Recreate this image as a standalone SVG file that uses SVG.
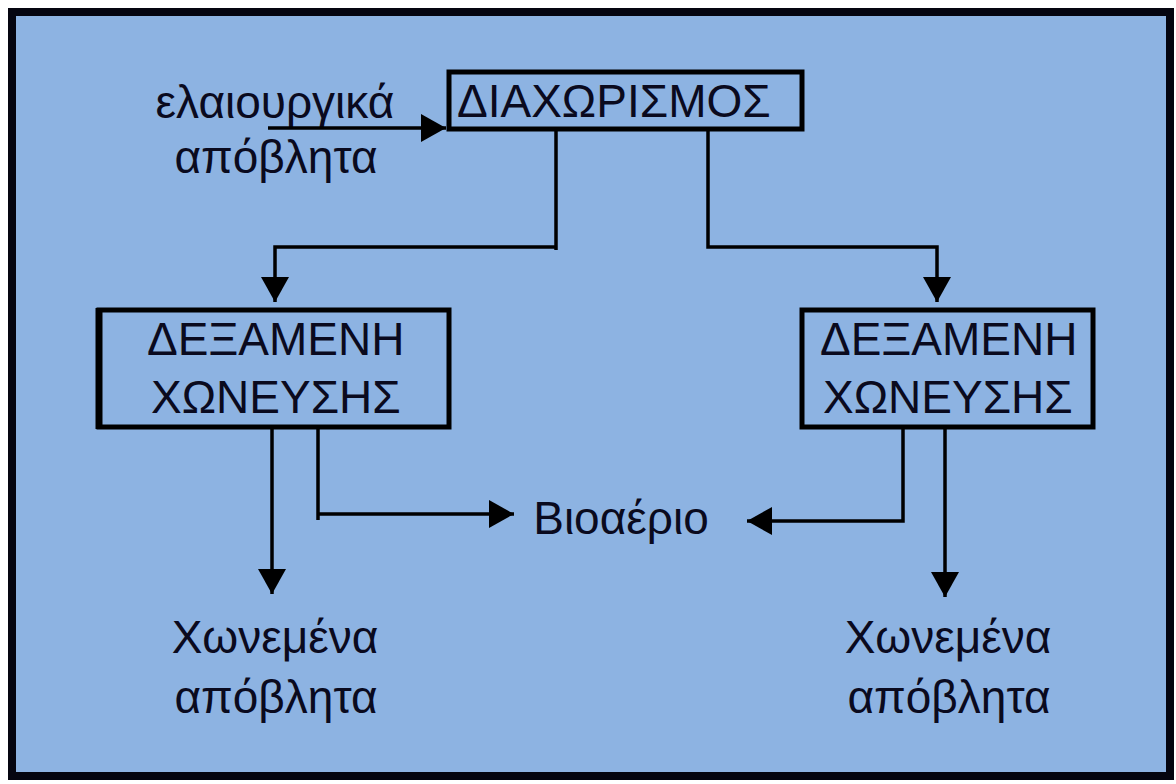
<svg xmlns="http://www.w3.org/2000/svg" width="1176" height="784" viewBox="0 0 1176 784">
<style>
.node rect{fill:none;stroke:#000;stroke-width:5}
.t{font-family:"Liberation Sans",Arial,sans-serif;fill:#0a0a1e}
.big{font-size:46px}
.lbl{font-size:46px;text-anchor:middle}
.c path{fill:none;stroke:#000;stroke-width:3.5}
</style>
<defs>
<marker id="ah" markerUnits="userSpaceOnUse" markerWidth="26" markerHeight="30" refX="25" refY="15" orient="auto" viewBox="0 0 26 30">
<path d="M0,1 L25,15 L0,29 Z" fill="#000"/>
</marker>
</defs>
<rect x="12" y="12" width="1158" height="764" fill="#8db3e2" stroke="#050510" stroke-width="8"/>
<g id="input-label">
<text class="t lbl" x="275" y="118">ελαιουργικά</text>
<text class="t lbl" x="276" y="173">απόβλητα</text>
</g>
<g id="diaxorismos" class="node">
<rect x="449" y="72" width="353" height="57"/>
<text class="t big" x="457" y="117">ΔΙΑΧΩΡΙΣΜΟΣ</text>
</g>
<g id="dexameni-left" class="node">
<rect x="99" y="310" width="350" height="117"/>
<line x1="99" y1="308" x2="99" y2="429" stroke="#000" stroke-width="7"/>
<text class="t big" x="147" y="355">ΔΕΞΑΜΕΝΗ</text>
<text class="t big" x="151" y="413">ΧΩΝΕΥΣΗΣ</text>
</g>
<g id="dexameni-right" class="node">
<rect x="802" y="310" width="291" height="117"/>
<text class="t big" x="820" y="355">ΔΕΞΑΜΕΝΗ</text>
<text class="t big" x="823" y="413">ΧΩΝΕΥΣΗΣ</text>
</g>
<g id="bioaerio">
<text class="t lbl" x="621" y="534">Βιοαέριο</text>
</g>
<g id="xonemena-left">
<text class="t lbl" x="275" y="653">Χωνεμένα</text>
<text class="t lbl" x="276" y="713">απόβλητα</text>
</g>
<g id="xonemena-right">
<text class="t lbl" x="948" y="653">Χωνεμένα</text>
<text class="t lbl" x="949" y="713">απόβλητα</text>
</g>
<g class="c" id="connectors">
<path d="M268,128 H446" marker-end="url(#ah)"/>
<path d="M556,130 V250 M556,247 H275 V302" marker-end="url(#ah)"/>
<path d="M708,130 V247 H937 V302" marker-end="url(#ah)"/>
<path d="M272,429 V594" marker-end="url(#ah)"/>
<path d="M318,429 V520 M318,514 H514" marker-end="url(#ah)"/>
<path d="M903,429 V521 H747" marker-end="url(#ah)"/>
<path d="M945,429 V597" marker-end="url(#ah)"/>
</g>
</svg>
